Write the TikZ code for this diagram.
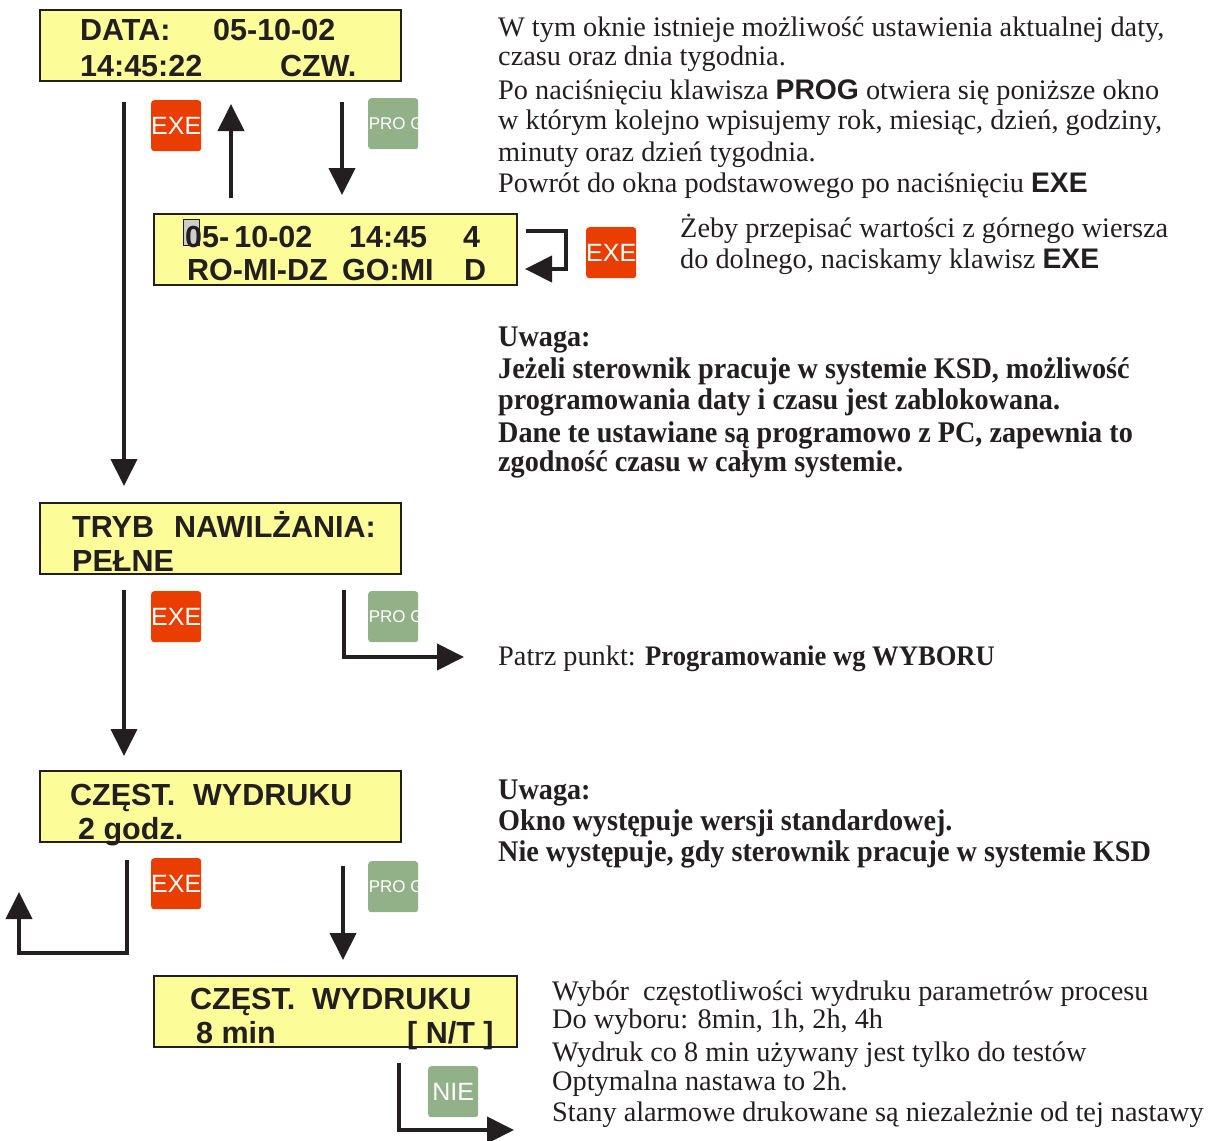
\documentclass[tikz,border=0pt]{standalone}
\usepackage{fontspec}
\setmainfont{Liberation Serif}
\setsansfont{Liberation Sans}
\newfontfamily\notefont[FakeStretch=0.94]{Liberation Serif}
\usetikzlibrary{arrows.meta}
\definecolor{lcdfill}{RGB}{252,252,153}
\definecolor{ink}{RGB}{35,31,32}
\definecolor{exered}{RGB}{234,62,0}
\definecolor{proggreen}{RGB}{147,177,136}
\definecolor{cursorgray}{RGB}{205,205,205}
\tikzset{
  lcd/.style={draw=ink, line width=2pt, fill=lcdfill, anchor=north west,
    inner sep=0pt, minimum height=71pt},
  lt/.style={font=\sffamily\bfseries\fontsize{30.5}{30.5}\selectfont, text=ink,
    anchor=base west, inner sep=0pt},
  keybox/.style={rounded corners=3pt, anchor=north west, minimum width=50pt,
    minimum height=51pt, inner sep=0pt},
  exekey/.style={keybox, fill=exered,
    label={[text=white, font=\sffamily\fontsize{25}{25}\selectfont, inner sep=0pt]center:EXE}},
  progkey/.style={keybox, fill=proggreen,
    label={[text=white, font=\sffamily\fontsize{17}{17}\selectfont, inner sep=0pt, xshift=3pt]center:PRO G}},
  niekey/.style={keybox, fill=proggreen,
    label={[text=white, font=\sffamily\fontsize{25}{25}\selectfont, inner sep=0pt]center:NIE}},
  flow/.style={draw=ink, line width=4pt, -{Triangle[length=27pt,width=26pt]}},
  txt/.style={font=\fontsize{28.3}{32}\selectfont, text=ink, anchor=base west, inner sep=0pt},
  btxt/.style={txt, font=\notefont\bfseries\fontsize{30}{32}\selectfont},
}
\newcommand{\kb}[1]{{\sffamily\bfseries #1}}
\begin{document}
\begin{tikzpicture}[x=1pt,y=-1pt]
\useasboundingbox (0,0) rectangle (1212,1140);

% ---------- display windows ----------
\node[lcd, minimum width=361pt] (d1) at (39,9) {};
\node[lt] (d1a) at (80,41) {DATA:};
\node[lt] (d1b) at (213,41) {05-10-02};
\node[lt] (d1c) at (80,76) {14:45:22};
\node[lt] (d1d) at (280,76) {CZW.};

\node[lcd, minimum width=363pt] (d2) at (153,213) {};
\node[draw=ink, line width=1pt, fill=cursorgray, anchor=north west,
  minimum width=16pt, minimum height=26pt, inner sep=0pt] (cur) at (183,219) {};
\node[lt] (d2a) at (185,247) {05-\,10-02};
\node[lt] (d2b) at (349,247) {14:45};
\node[lt] (d2c) at (463,247) {4};
\node[lt] (d2d) at (187,280) {RO-MI-DZ};
\node[lt] (d2e) at (342,280) {GO:MI};
\node[lt] (d2f) at (464,280) {D};

\node[lcd, minimum width=361pt] (d3) at (39,502) {};
\node[lt] (d3a) at (72,537) {TRYB};
\node[lt] (d3b) at (174,537) {NAWILŻANIA:};
\node[lt] (d3c) at (72,571) {PEŁNE};

\node[lcd, minimum width=361pt] (d4) at (39,770) {};
\node[lt] (d4a) at (70,805) {CZĘST.};
\node[lt] (d4b) at (193,805) {WYDRUKU};
\node[lt] (d4c) at (78,839) {2 godz.};

\node[lcd, minimum width=363pt] (d5) at (153,975) {};
\node[lt] (d5a) at (190,1009) {CZĘST.};
\node[lt] (d5b) at (312,1009) {WYDRUKU};
\node[lt] (d5c) at (196,1043) {8 min};
\node[lt] (d5d) at (407,1043) {[ N/T ]};

% ---------- keys ----------
\node[exekey] (k1) at (151,100) {};
\node[progkey] (k2) at (368,98) {};
\node[exekey] (k3) at (586,227) {};
\node[exekey] (k4) at (151,591) {};
\node[progkey] (k5) at (368,591) {};
\node[exekey] (k6) at (151,858) {};
\node[progkey] (k7) at (368,861) {};
\node[niekey] (k8) at (428,1066) {};

% ---------- connector end points ----------
\coordinate (a1s) at (124,102);
\coordinate (a1e) at (124,486);
\coordinate (a2s) at (231,198);
\coordinate (a2e) at (231,104);
\coordinate (a3s) at (342,102);
\coordinate (a3e) at (342,195);
\coordinate (l1a) at (526,231);
\coordinate (l1b) at (566,231);
\coordinate (l1c) at (566,269);
\coordinate (l1e) at (525,269);
\coordinate (a4s) at (124,590);
\coordinate (a4e) at (124,756);
\coordinate (p1s) at (344,590);
\coordinate (p1c) at (344,657);
\coordinate (p1e) at (464,657);
\coordinate (e1s) at (127,860);
\coordinate (e1c) at (127,953);
\coordinate (e1d) at (19,953);
\coordinate (e1e) at (19,892);
\coordinate (a5s) at (343,866);
\coordinate (a5e) at (343,960);
\coordinate (n1s) at (399,1063);
\coordinate (n1c) at (399,1130);
\coordinate (n1e) at (514,1130);

% ---------- connectors ----------
\draw[flow] (a1s) -- (a1e);
\draw[flow] (a2s) -- (a2e);
\draw[flow] (a3s) -- (a3e);
\draw[flow] (l1a) -- (l1b) -- (l1c) -- (l1e);
\draw[flow] (a4s) -- (a4e);
\draw[flow] (p1s) -- (p1c) -- (p1e);
\draw[flow] (e1s) -- (e1c) -- (e1d) -- (e1e);
\draw[flow] (a5s) -- (a5e);
\draw[flow] (n1s) -- (n1c) -- (n1e);

% ---------- descriptions ----------
\node[txt] (t1) at (498,37) {W tym oknie istnieje możliwość ustawienia aktualnej daty,};
\node[txt] (t2) at (498,66) {czasu oraz dnia tygodnia.};
\node[txt] (t3) at (498,99) {Po naciśnięciu klawisza \kb{PROG} otwiera się poniższe okno};
\node[txt] (t4) at (498,129) {w którym kolejno wpisujemy rok, miesiąc, dzień, godziny,};
\node[txt] (t5) at (498,161) {minuty oraz dzień tygodnia.};
\node[txt] (t6) at (498,192) {Powrót do okna podstawowego po naciśnięciu \kb{EXE}};

\node[txt] (t7) at (680,237) {Żeby przepisać wartości z górnego wiersza};
\node[txt] (t8) at (680,268) {do dolnego, naciskamy klawisz \kb{EXE}};

\node[btxt] (u1) at (498,346) {Uwaga:};
\node[btxt] (u2) at (498,378) {Jeżeli sterownik pracuje w systemie KSD, możliwość};
\node[btxt] (u3) at (498,409) {programowania daty i czasu jest zablokowana.};
\node[btxt] (u4) at (498,442) {Dane te ustawiane są programowo z PC, zapewnia to};
\node[btxt] (u5) at (498,471) {zgodność czasu w całym systemie.};

\node[txt] (t9) at (498,665) {Patrz punkt: {\notefont\bfseries Programowanie wg WYBORU}};

\node[btxt] (v1) at (498,799) {Uwaga:};
\node[btxt] (v2) at (498,830) {Okno występuje wersji standardowej.};
\node[btxt] (v3) at (498,861) {Nie występuje, gdy sterownik pracuje w systemie KSD};

\node[txt] (w1) at (552,1000) {Wybór\ \ częstotliwości wydruku parametrów procesu};
\node[txt] (w2) at (552,1028) {Do wyboru: 8min, 1h, 2h, 4h};
\node[txt] (w3) at (552,1061) {Wydruk co 8 min używany jest tylko do testów};
\node[txt] (w4) at (552,1090) {Optymalna nastawa to 2h.};
\node[txt] (w5) at (552,1121) {Stany alarmowe drukowane są niezależnie od tej nastawy};
\end{tikzpicture}
\end{document}
